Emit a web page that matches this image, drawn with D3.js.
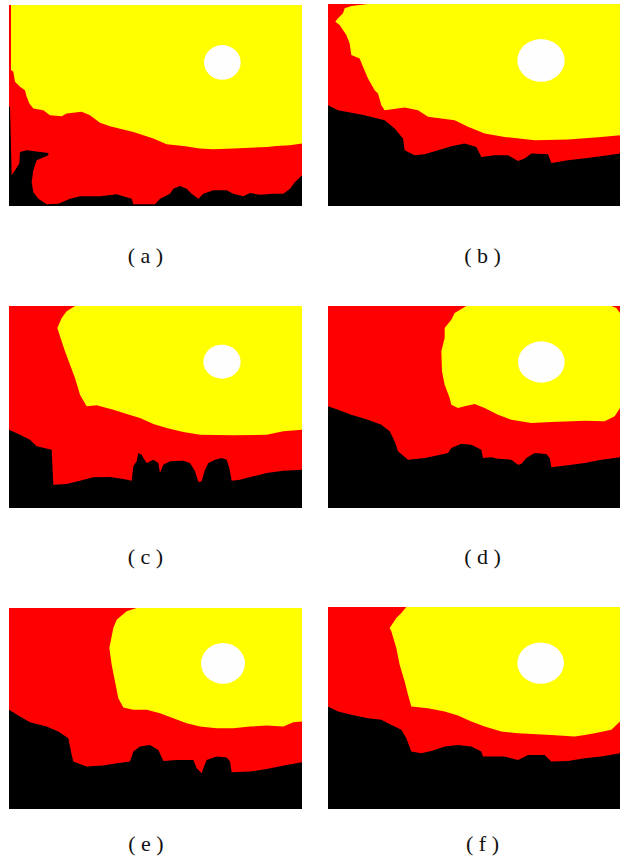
<!DOCTYPE html>
<html><head><meta charset="utf-8">
<script src="https://cdn.jsdelivr.net/npm/d3@7"></script>
<style>html,body{margin:0;padding:0;background:#fff;}svg{display:block;}</style>
</head><body>
<script>
// ---- data (segmentation region boundaries, in source-image units) ----
const panelNames = ["a","b","c","d","e","f"];
const labels = ["( a )","( b )","( c )","( d )","( e )","( f )"];
// extent of each source image in its own units [x0,y0,x1,y1]
const frames = [[27,15,906,617],[30,12,906,617],[27,24,906,630],[30,24,906,630],[27,30,906,632],[30,27,906,632]];

const yellowA = [[33,15],[906,15],[906,430],[870,435],[830,437],[800,440],[700,445],[640,447],[600,445],[550,437],[500,432],[460,415],[400,395],[330,378],[300,368],[270,345],[245,335],[200,340],[185,348],[150,345],[130,330],[100,325],[88,310],[80,290],[75,270],[60,260],[45,245],[40,215],[33,210]];
const blackA = [[27,320],[30,320],[35,525],[45,510],[58,490],[60,455],[80,450],[145,458],[145,465],[110,480],[100,510],[95,545],[100,575],[115,595],[140,612],[175,610],[210,595],[240,588],[300,588],[350,582],[370,588],[395,595],[400,612],[465,612],[480,595],[510,580],[520,565],[540,557],[560,565],[575,580],[595,595],[610,580],[640,570],[680,570],[700,580],[730,588],[750,578],[780,583],[820,580],[850,580],[870,565],[885,545],[906,525],[906,617],[27,617]];
const sunA = [667,187,55,52];

const yellowB = [[150,12],[906,12],[906,405],[850,410],[750,418],[650,420],[560,410],[500,400],[450,380],[410,360],[330,350],[300,330],[260,322],[200,330],[190,315],[180,280],[170,270],[150,235],[135,200],[125,175],[100,165],[95,130],[85,105],[65,75],[52,65],[60,55],[75,40],[80,25],[100,18]];
const blackB = [[30,315],[60,330],[100,338],[140,345],[200,360],[230,385],[255,415],[260,450],[290,465],[320,462],[360,450],[400,438],[440,430],[475,440],[490,470],[530,465],[570,465],[600,482],[620,475],[640,460],[690,462],[700,488],[750,480],[820,472],[870,465],[906,460],[906,617],[30,617]];
const sunB = [669,181,71,64];

const yellowC = [[225,24],[906,24],[906,395],[850,400],[800,410],[700,412],[600,410],[550,402],[500,390],[460,378],[420,360],[380,348],[340,335],[290,322],[260,325],[240,290],[225,240],[210,200],[195,160],[185,130],[172,90],[185,60],[200,40]];
const blackC = [[27,395],[60,410],[90,425],[110,445],[155,455],[160,560],[200,558],[240,548],[280,538],[330,537],[370,543],[395,548],[400,505],[410,490],[415,465],[425,470],[430,480],[440,495],[460,485],[475,495],[480,525],[490,500],[510,490],[550,488],[570,495],[585,520],[595,552],[605,550],[615,515],[625,495],[645,485],[665,480],[680,485],[688,510],[695,548],[720,545],[760,535],[800,525],[850,518],[906,515],[906,630],[27,630]];
const sunC = [666,191,56,51];

const yellowD = [[445,24],[880,24],[895,30],[906,45],[906,330],[890,355],[860,370],[800,368],[700,372],[640,375],[580,365],[540,350],[500,330],[470,318],[440,325],[420,330],[400,320],[395,300],[380,260],[372,220],[370,160],[380,120],[380,90],[400,65],[410,45]];
const blackD = [[30,325],[60,335],[100,350],[150,365],[190,380],[215,400],[230,430],[240,460],[270,485],[320,480],[360,472],[390,465],[400,450],[430,437],[460,440],[490,455],[495,480],[520,478],[540,482],[580,485],[600,500],[610,498],[625,480],[650,465],[685,468],[695,480],[700,508],[750,502],[800,495],[850,485],[906,478],[906,630],[30,630]];
const sunD = [670,192,70,62];

const yellowE = [[410,30],[906,30],[906,370],[880,372],[850,385],[800,382],[750,385],[700,390],[650,390],[600,385],[560,375],[520,360],[480,345],[440,335],[400,335],[370,328],[355,300],[345,250],[335,200],[328,150],[340,90],[350,65],[380,40]];
const blackE = [[27,335],[60,355],[90,372],[140,385],[175,400],[205,420],[215,470],[220,490],[260,505],[310,502],[350,495],[390,490],[400,460],[420,445],[450,440],[475,455],[490,488],[530,485],[580,485],[590,510],[605,525],[610,510],[620,485],[650,475],[680,478],[690,490],[695,522],[750,520],[800,512],[860,500],[906,492],[906,632],[27,632]];
const sunE = [669,196,66,61];

const yellowF = [[265,27],[906,27],[906,370],[880,395],[830,405],[800,410],[770,415],[700,410],[600,405],[550,400],[500,385],[460,370],[420,352],[380,340],[330,330],[280,325],[270,290],[260,250],[245,200],[235,150],[220,100],[215,90],[235,60],[250,45]];
const blackF = [[30,325],[60,340],[100,350],[150,360],[190,365],[210,375],[250,395],[265,420],[280,460],[310,465],[340,458],[380,445],[420,440],[460,445],[490,460],[495,475],[560,475],[600,485],[630,470],[680,470],[700,490],[750,488],[800,480],[850,475],[906,465],[906,632],[30,632]];
const sunF = [668,195,70,62];

const yellows = [yellowA,yellowB,yellowC,yellowD,yellowE,yellowF];
const blacks = [blackA,blackB,blackC,blackD,blackE,blackF];
const suns = [sunA,sunB,sunC,sunD,sunE,sunF];

// ---- layout ----
const W = 626, H = 859;
const boxes = [[9,5,302,206],[328,4,620,206],[9,306,302,508],[328,306,620,508],[9,608,302,809],[328,607,620,809]];
const labelPos = [[145.5,263],[482.5,263],[145.5,564],[482.5,564],[146,851],[482.5,851]];
const colors = {red:"#ff0000", yellow:"#ffff00", black:"#000000", white:"#fefefe"};

const svg = d3.select("body").append("svg").attr("width",W).attr("height",H);

panelNames.forEach((name,i)=>{
  const f = frames[i], b = boxes[i];
  const x = d3.scaleLinear().domain([f[0],f[2]]).range([b[0],b[2]]);
  const y = d3.scaleLinear().domain([f[1],f[3]]).range([b[1],b[3]]);
  const clipId = "clip-"+name;
  svg.append("clipPath").attr("id",clipId).append("rect")
    .attr("x",b[0]).attr("y",b[1]).attr("width",b[2]-b[0]).attr("height",b[3]-b[1]);
  const g = svg.append("g").attr("clip-path",`url(#${clipId})`);
  g.append("rect").attr("x",x(f[0])).attr("y",y(f[1]))
    .attr("width",x(f[2])-x(f[0])).attr("height",y(f[3])-y(f[1])).attr("fill",colors.red);
  const line = d3.line().x(d=>x(d[0])).y(d=>y(d[1])).curve(d3.curveLinearClosed);
  g.append("path").attr("d",line(yellows[i])).attr("fill",colors.yellow);
  g.append("path").attr("d",line(blacks[i])).attr("fill",colors.black);
  const s = suns[i];
  g.append("ellipse").attr("cx",x(s[0])).attr("cy",y(s[1]))
    .attr("rx",x(s[0]+s[2])-x(s[0])).attr("ry",y(s[1]+s[3])-y(s[1])).attr("fill",colors.white);
  svg.append("text").attr("x",labelPos[i][0]).attr("y",labelPos[i][1])
    .attr("text-anchor","middle")
    .style("font-family","'Liberation Serif','DejaVu Serif',serif")
    .style("font-size","22px").style("fill","#111")
    .text(labels[i]);
});
</script>
</body></html>
